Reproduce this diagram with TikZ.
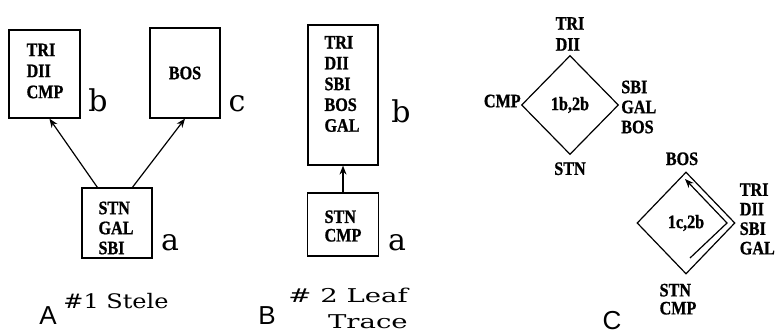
\documentclass[tikz,border=0pt]{standalone}
\usepackage{fontspec}
\usetikzlibrary{shapes.geometric,arrows.meta,calc}
\newfontfamily\boxfont[FakeStretch=0.85,FakeBold=1]{Liberation Serif}
\newfontfamily\lblfont{DejaVu Serif}
\newfontfamily\capfont[FakeStretch=1.2]{DejaVu Serif}
\newfontfamily\capfontB[FakeStretch=1.45]{DejaVu Serif}
\newfontfamily\bigsans{Liberation Sans}
\begin{document}
\begin{tikzpicture}[x=1pt,y=-1pt,
  box/.style={draw, line width=1.2pt, inner sep=0pt},
  txt/.style={font=\boxfont\bfseries\fontsize{19}{20}\selectfont, align=left, inner sep=0pt},
  lbl/.style={font=\lblfont\fontsize{30}{30}\selectfont, inner sep=0pt, anchor=base},
  captext/.style={font=\capfont\fontsize{20}{26}\selectfont, inner sep=0pt},
  panel/.style={font=\bigsans\fontsize{26}{26}\selectfont, inner sep=0pt},
  arr/.style={-{Stealth[length=9pt,width=7pt]}, line width=1.2pt},
  dia/.style={diamond, draw, line width=1.2pt, inner sep=0pt}]
\useasboundingbox (0,0) rectangle (776,334);
% ---------- Panel A ----------
\node[box, minimum width=71, minimum height=88] (Ab) at (44.5,74) {};
\node[txt, font=\boxfont\bfseries\fontsize{19}{21}\selectfont] (Abt) at (45,71) {TRI\\DII\\CMP};
\node[box, minimum width=70, minimum height=90] (Ac) at (185,73) {};
\node[txt] (Act) at (185,73) {BOS};
\node[box, minimum width=70, minimum height=70] (Aa) at (117,223) {};
\node[txt] (Aat) at (116,228) {STN\\GAL\\SBI};
\node[lbl] (Abl) at (98,112) {b};
\node[lbl] (Acl) at (237,112) {c};
\node[lbl] (Aal) at (170,250) {a};
\draw[arr] ($(Aa.north west)+(16,0)$) -- ($(Ab.south west)+(41,0)$);
\draw[arr] ($(Aa.north west)+(51,0)$) -- (Ac.south);
\node[captext] (Acap) at (116,301) {\#1 Stele};
\node[panel] (AL) at (48,316) {A};
% ---------- Panel B ----------
\node[box, minimum width=70, minimum height=140] (Bb) at (343,95) {};
\node[txt, font=\boxfont\bfseries\fontsize{19}{20.8}\selectfont] (Bbt) at (342,84) {TRI\\DII\\SBI\\BOS\\GAL};
\node[box, minimum width=71, minimum height=63] (Ba) at (343,224.5) {};
\node[txt, font=\boxfont\bfseries\fontsize{19}{18.5}\selectfont] (Bat) at (343,226) {STN\\CMP};
\node[lbl] (Bbl) at (401,123) {b};
\node[lbl] (Bal) at (397,250) {a};
\draw[arr] (Ba.north) -- (Bb.south);
\node[captext, font=\capfontB\fontsize{19}{26}\selectfont, align=right, anchor=east] (Bcap) at (408,308) {\# 2 Leaf\\Trace};
\node[panel] (BL) at (267,316) {B};
% ---------- Panel C ----------
\node[dia, minimum width=97, minimum height=99, txt] (D1) at (570,105) {1b,2b};
\node[txt, anchor=south, font=\boxfont\bfseries\fontsize{19}{21}\selectfont] (D1t) at ($(D1.north)+(0,-4)$) {TRI\\DII};
\node[txt, anchor=east] (D1l) at ($(D1.west)+(0,-4)$) {CMP};
\node[txt, anchor=west] (D1r) at ($(D1.east)+(2,2)$) {SBI\\GAL\\BOS};
\node[txt, anchor=north] (D1b) at ($(D1.south)+(0,7)$) {STN};
\node[dia, minimum width=98, minimum height=102, txt] (D2) at (686,223) {1c,2b};
\coordinate (p1) at ($(D2.center)+(4,35)$);
\coordinate (p2) at ($(D2.center)+(41,0)$);
\coordinate (p3) at ($(D2.center)+(-1,-44)$);
\draw[arr] (p1) -- (p2) -- (p3);
\node[txt, anchor=south] (D2t) at ($(D2.north)+(-4,-6)$) {BOS};
\node[txt, anchor=west, font=\boxfont\bfseries\fontsize{19}{19.5}\selectfont] (D2r) at ($(D2.east)+(4,-4)$) {TRI\\DII\\SBI\\GAL};
\node[txt, anchor=north, font=\boxfont\bfseries\fontsize{19}{18}\selectfont] (D2b) at ($(D2.south)+(-8,9)$) {STN\\CMP};
\node[panel] (CL) at (612,321) {C};
\end{tikzpicture}
\end{document}
